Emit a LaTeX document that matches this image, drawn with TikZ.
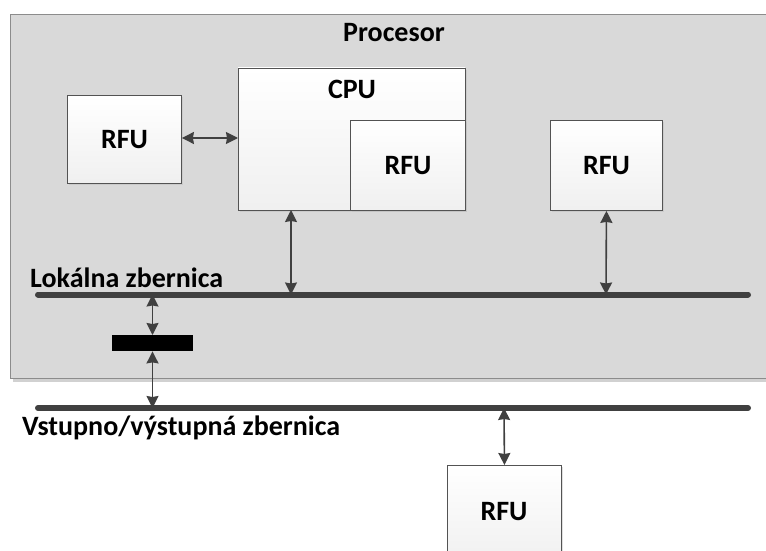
\documentclass[tikz,border=0pt]{standalone}
\usepackage{fontspec}
\setmainfont{Carlito}
\usetikzlibrary{arrows.meta,shadows}
\definecolor{procfill}{HTML}{D9D9D9}
\definecolor{procborder}{HTML}{8C8C8C}
\definecolor{linec}{HTML}{404040}
\tikzset{
  unitbox/.style={draw=linec!90, line width=0.9pt, top color=white, bottom color=black!6,
    drop shadow={shadow xshift=2pt, shadow yshift=-2pt, fill=black!25, opacity=0.5}},
  lbl/.style={font=\bfseries\fontsize{28}{31}\selectfont, text=black},
  bus/.style={line width=6pt, draw=linec, line cap=round},
  link/.style={draw=linec, line width=1.6pt, {Stealth[length=12pt,width=12pt,inset=1pt]}-{Stealth[length=12pt,width=12pt,inset=1pt]}}
}
\begin{document}
\begin{tikzpicture}[x=1pt,y=-1pt]
\useasboundingbox (0,0) rectangle (766,551);
% processor
\fill[black!18] (13,19) rectangle (770,382);
\draw[procborder, fill=procfill, line width=1pt] (10,15) rectangle (770,378);
\node[lbl] (proc) at (394,33) {Procesor};
% CPU
\draw[unitbox] (238,68) rectangle (465,210);
\node[lbl] (cpu) at (352,89) {CPU};
\node[unitbox, minimum width=115pt, minimum height=90pt, anchor=north west, inner sep=0pt] (rfuin) at (350,120) {};
\node[lbl] at (rfuin.center) {RFU};
\coordinate (cpuW) at (238,138);
\coordinate (cpuS) at (291,210);
% left RFU
\node[unitbox, minimum width=114pt, minimum height=88pt, anchor=north west, inner sep=0pt] (rfuL) at (67,95) {};
\node[lbl] at (rfuL.center) {RFU};
% right RFU
\node[unitbox, minimum width=112pt, minimum height=90pt, anchor=north west, inner sep=0pt] (rfuR) at (550,120) {};
\node[lbl] at (rfuR.center) {RFU};
% buses
\coordinate (lbA) at (38,294.5);
\coordinate (lbB) at (748,294.5);
\draw[bus] (lbA) -- (lbB);
\node[lbl, anchor=base west, inner sep=0pt] (lbl1) at (30,287) {Lokálna zbernica};
\coordinate (ioA) at (38,408);
\coordinate (ioB) at (748,408);
\draw[bus] (ioA) -- (ioB);
\node[lbl, anchor=base west, inner sep=0pt] (lbl2) at (22,435) {Vstupno/výstupná zbernica};
% bridge
\node[fill=black, minimum width=81pt, minimum height=16pt, inner sep=0pt, anchor=north west] (bridge) at (112,335) {};
% bottom RFU
\node[unitbox, minimum width=114pt, minimum height=100pt, anchor=north west, inner sep=0pt] (rfuB) at (447,465) {};
\node[lbl] at (447+57,512) {RFU};
% links
\coordinate (lb1) at (291,294.5);
\coordinate (lb2) at (606,294.5);
\coordinate (lb3) at (152.5,294.5);
\coordinate (io1) at (152.5,408);
\coordinate (io2) at (504,408);
\draw[link] (rfuL.east |- cpuW) -- (cpuW);
\draw[link] (cpuS) -- (lb1);
\draw[link] (rfuR.south) -- (lb2);
\draw[link] (lb3) -- (lb3 |- bridge.north);
\draw[link] (lb3 |- bridge.south) -- (io1);
\draw[link] (io2) -- (rfuB.north);
\end{tikzpicture}
\end{document}
